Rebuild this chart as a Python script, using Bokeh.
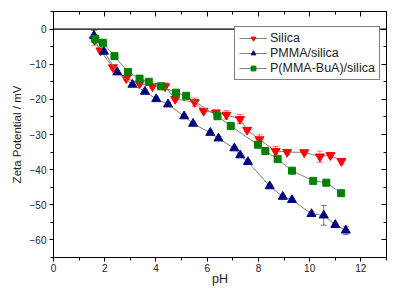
from bokeh.plotting import figure
from bokeh.models import (LinearAxis, SingleIntervalTicker, Span, Whisker, ColumnDataSource,
                          Legend, LegendItem, Range1d, TeeHead)
from bokeh.embed import file_html
from bokeh.resources import INLINE

# ---- data ----
silica_ph = [1.60, 1.83, 2.32, 2.84, 3.36, 3.86, 4.36, 4.75, 5.51, 5.86, 6.34, 6.75, 7.28, 7.56, 8.04, 8.67, 9.12, 9.79, 10.40, 10.81, 11.24]
silica_zp = [-3.1, -6.1, -10.9, -14.0, -15.5, -16.3, -16.3, -19.9, -20.8, -23.3, -23.8, -24.4, -25.6, -28.7, -31.4, -34.7, -35.0, -35.1, -36.3, -35.9, -37.6]
silica_err = [1.5, 0.6, 0.5, 0.5, 0.6, 0.5, 1.0, 0.5, 1.2, 0.5, 0.8, 1.2, 1.3, 0.5, 1.3, 1.3, 0.6, 0.5, 1.6, 0.8, 0.8]

pmma_ph = [1.58, 1.97, 2.49, 3.08, 3.57, 4.01, 4.47, 5.10, 5.45, 6.12, 6.44, 7.06, 7.29, 7.59, 8.44, 8.95, 9.31, 10.07, 10.55, 11.00, 11.41]
pmma_zp = [-1.9, -6.4, -12.3, -15.8, -17.8, -19.9, -21.4, -24.8, -26.9, -29.5, -31.1, -33.9, -35.9, -37.8, -44.7, -47.7, -48.6, -52.6, -53.0, -55.7, -57.3]
pmma_err = [1.5, 0.5, 0.5, 0.5, 0.5, 0.5, 0.5, 0.5, 0.5, 0.5, 0.5, 0.5, 0.5, 0.5, 0.5, 0.5, 0.5, 0.5, 2.8, 0.5, 1.2]

pbua_ph = [1.63, 1.93, 2.38, 2.91, 3.36, 3.72, 4.20, 4.78, 5.18, 6.40, 6.92, 7.98, 8.27, 8.75, 9.31, 10.14, 10.65, 11.23]
pbua_zp = [-2.8, -3.9, -7.7, -12.2, -14.1, -15.0, -16.3, -18.1, -19.0, -24.8, -27.6, -32.9, -34.7, -37.0, -40.3, -43.2, -43.7, -46.7]

labels = ["Silica", "PMMA/silica", "P(MMA-BuA)/silica"]
colors = ["#FF0000", "#000080", "#008000"]

FONT = "Liberation Sans"

p = figure(width=395, height=288, output_backend="svg", toolbar_location=None,
           x_range=Range1d(0, 13), y_range=Range1d(-65, 5),
           min_border_left=53, min_border_right=9, min_border_top=11, min_border_bottom=31,
           x_axis_label="pH", y_axis_label="Zeta Potential / mV")
p.grid.visible = False
p.outline_line_color = "black"
p.background_fill_color = "white"
p.border_fill_color = "white"

p.xaxis.ticker = SingleIntervalTicker(interval=2, num_minor_ticks=2)
p.yaxis.ticker = SingleIntervalTicker(interval=10, num_minor_ticks=2)

for ax in (p.xaxis[0], p.yaxis[0]):
    ax.axis_line_color = "black"
    ax.major_tick_out = 4
    ax.major_tick_in = 0
    ax.minor_tick_out = 3
    ax.minor_tick_in = 0
    ax.major_label_text_font = FONT
    ax.major_label_text_font_size = "10px"
    ax.major_label_text_color = "#222222"
    ax.axis_label_text_font = FONT
    ax.axis_label_text_font_style = "normal"
    ax.axis_label_text_color = "#222222"
p.xaxis.axis_label_text_font_size = "12.5px"
p.yaxis.axis_label_text_font_size = "11.5px"
p.xaxis.axis_label_standoff = -3
p.xaxis.major_label_standoff = 2
p.yaxis.axis_label_standoff = 4
p.yaxis.major_label_standoff = 3

top = LinearAxis(ticker=SingleIntervalTicker(interval=2, num_minor_ticks=2))
right = LinearAxis(ticker=SingleIntervalTicker(interval=10, num_minor_ticks=2))
for ax in (top, right):
    ax.major_label_text_font_size = "1px"
    ax.major_label_text_color = None
    ax.major_label_standoff = 0
    ax.major_tick_out = 0
    ax.major_tick_in = 5
    ax.minor_tick_out = 0
    ax.minor_tick_in = 3
    ax.major_tick_line_color = "black"
    ax.minor_tick_line_color = "black"
    ax.axis_line_color = "black"
p.add_layout(top, "above")
p.add_layout(right, "right")

p.add_layout(Span(location=0, dimension="width", line_color="black", line_width=1.2))

items = []
series = [
    (silica_ph, silica_zp, silica_err, "inverted_triangle", 9),
    (pmma_ph, pmma_zp, pmma_err, "triangle", 9),
    (pbua_ph, pbua_zp, None, "square", 7),
]
for (xs, ys, err, marker, size), lab, col in zip(series, labels, colors):
    src = ColumnDataSource(dict(x=xs, y=ys))
    ln = p.line("x", "y", source=src, line_color="#808080", line_width=1)
    if err is not None:
        esrc = ColumnDataSource(dict(x=xs, lo=[y - e for y, e in zip(ys, err)],
                                     hi=[y + e for y, e in zip(ys, err)]))
        w = Whisker(base="x", lower="lo", upper="hi", source=esrc, dimension="height",
                    line_color=col, line_alpha=0.55, line_width=1,
                    upper_head=TeeHead(size=6, line_color=col, line_alpha=0.55),
                    lower_head=TeeHead(size=6, line_color=col, line_alpha=0.55))
        p.add_layout(w)
    sc = p.scatter("x", "y", source=src, marker=marker, size=size,
                   fill_color=col, line_color=col)
    items.append(LegendItem(label=lab, renderers=[ln, sc]))

legend = Legend(items=items, location=(181, 177))
legend.border_line_color = "black"
legend.border_line_width = 1
legend.label_text_font = FONT
legend.label_text_font_size = "12.5px"
legend.label_text_color = "#222222"
legend.glyph_width = 28
legend.glyph_height = 12
legend.label_height = 12
legend.spacing = 1
legend.padding = 4
legend.margin = 0
legend.label_standoff = 3
legend.background_fill_alpha = 1
p.add_layout(legend, "center")

open("out.html", "w").write(file_html(p, INLINE))
